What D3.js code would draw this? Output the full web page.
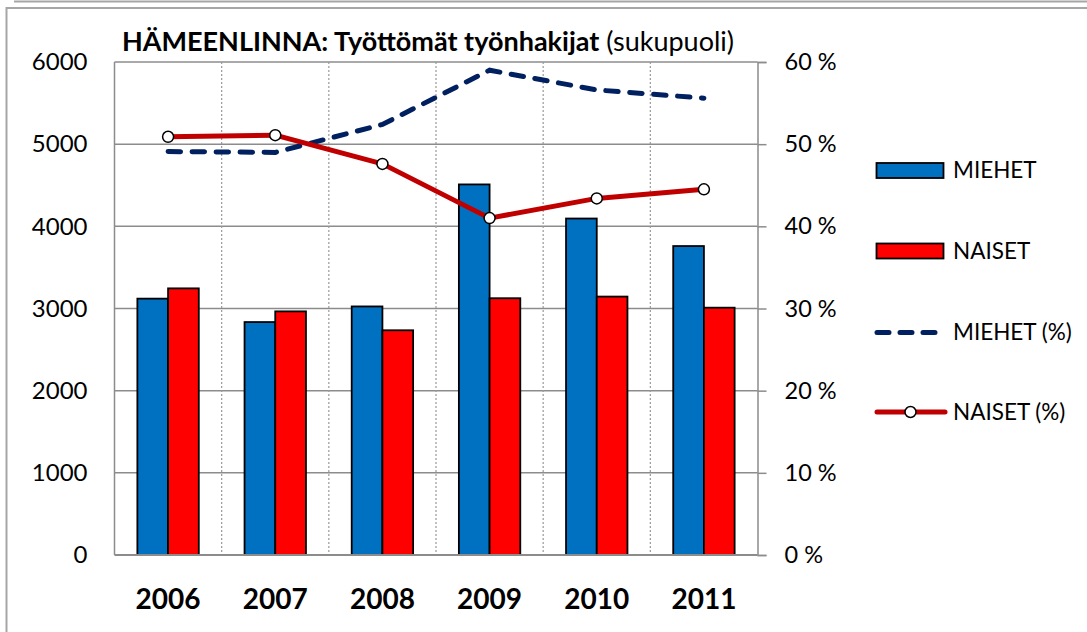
<!DOCTYPE html>
<html>
<head>
<meta charset="utf-8">
<script src="https://cdn.jsdelivr.net/npm/d3@7"></script>
<style>
html,body{margin:0;padding:0;background:#fff;}
svg{display:block;font-family:Lato,"Open Sans",sans-serif;}
</style>
</head>
<body>
<svg id="chart" width="1087" height="632"></svg>
<script>
// ---- data ----
const years = ["2006", "2007", "2008", "2009", "2010", "2011"];
const miehet = [3120, 2835, 3025, 4510, 4095, 3760];
const naiset = [3245, 2965, 2735, 3125, 3145, 3010];
const miehetPct = [49.1, 49.0, 52.4, 59.0, 56.6, 55.6];
const naisetPct = [50.9, 51.1, 47.6, 41.0, 43.4, 44.5];
const leftTicks = [0, 1000, 2000, 3000, 4000, 5000, 6000];
const rightTicks = [0, 10, 20, 30, 40, 50, 60];
const titleBold = "HÄMEENLINNA: Työttömät työnhakijat";
const titleNormal = "(sukupuoli)";
const legendLabels = ["MIEHET", "NAISET", "MIEHET (%)", "NAISET (%)"];

const svg = d3.select("#chart");
const W = 1087, H = 632;
const plot = {left: 114.5, right: 757.5, top: 62, bottom: 555};

// outer frames
svg.append("line").attr("x1", 14).attr("x2", W).attr("y1", 1.5).attr("y2", 1.5)
  .attr("stroke", "#a6a6a6").attr("stroke-width", 2);
svg.append("rect").attr("x", 6.5).attr("y", 8).attr("width", W + 20).attr("height", H + 20)
  .attr("fill", "none").attr("stroke", "#a6a6a6").attr("stroke-width", 2);

const x = d3.scaleBand().domain(years).range([plot.left, plot.right]).padding(0);
const y = d3.scaleLinear().domain([0, 6000]).range([plot.bottom, plot.top]);
const y2 = d3.scaleLinear().domain([0, 60]).range([plot.bottom, plot.top]);

const barW = x.bandwidth() * 0.2865;
const xc = d => x(d) + x.bandwidth() / 2;

// horizontal gridlines
svg.append("g").selectAll("line").data(leftTicks.filter(t => t > 0)).join("line")
  .attr("x1", plot.left).attr("x2", plot.right)
  .attr("y1", d => y(d)).attr("y2", d => y(d))
  .attr("stroke", "#8c8c8c").attr("stroke-width", 1.5);

// vertical dotted separators
svg.append("g").selectAll("line").data(years.slice(1)).join("line")
  .attr("x1", d => x(d)).attr("x2", d => x(d))
  .attr("y1", plot.top).attr("y2", plot.bottom)
  .attr("stroke", "#999").attr("stroke-width", 1.2).attr("stroke-dasharray", "2 2");

// bars
const barG = svg.append("g");
barG.selectAll("rect.m").data(years).join("rect").attr("class", "m")
  .attr("x", d => xc(d) - barW).attr("width", barW)
  .attr("y", (d, i) => y(miehet[i])).attr("height", (d, i) => y(0) - y(miehet[i]))
  .attr("fill", "#0070C0").attr("stroke", "#000").attr("stroke-width", 1.8);
barG.selectAll("rect.n").data(years).join("rect").attr("class", "n")
  .attr("x", d => xc(d)).attr("width", barW)
  .attr("y", (d, i) => y(naiset[i])).attr("height", (d, i) => y(0) - y(naiset[i]))
  .attr("fill", "#FF0000").attr("stroke", "#000").attr("stroke-width", 1.8);

// axes lines
const axisColor = "#8c8c8c";
svg.append("line").attr("x1", plot.left).attr("x2", plot.left).attr("y1", plot.top).attr("y2", plot.bottom)
  .attr("stroke", axisColor).attr("stroke-width", 1.5);
svg.append("line").attr("x1", plot.left).attr("x2", plot.right).attr("y1", plot.bottom).attr("y2", plot.bottom)
  .attr("stroke", axisColor).attr("stroke-width", 2);

// right axis with outward ticks
const rAxis = svg.append("g").attr("transform", `translate(${plot.right},0)`)
  .call(d3.axisRight(y2).tickValues(rightTicks).tickSize(9).tickPadding(18).tickFormat(d => d + " %"));
rAxis.select(".domain").attr("stroke", axisColor).attr("stroke-width", 1.5);
rAxis.selectAll(".tick line").attr("stroke", axisColor).attr("stroke-width", 1.5);
rAxis.selectAll(".tick text").attr("font-family", "Lato").attr("font-size", 23.5).attr("fill", "#000");

// left axis labels
const lAxis = svg.append("g").attr("transform", `translate(${plot.left},0)`)
  .call(d3.axisLeft(y).tickValues(leftTicks).tickSize(0).tickPadding(27).tickFormat(d3.format("d")));
lAxis.select(".domain").remove();
lAxis.selectAll(".tick text").attr("font-family", "Lato").attr("font-size", 24).attr("fill", "#000");

// x labels
svg.append("g").selectAll("text").data(years).join("text")
  .attr("x", d => xc(d)).attr("y", 609)
  .attr("text-anchor", "middle").attr("font-family", "Lato").attr("font-weight", "bold")
  .attr("font-size", 28).attr("fill", "#000").text(d => d);

// lines
const line = d3.line().x((d, i) => xc(years[i])).y(d => y2(d));
svg.append("path").datum(miehetPct).attr("d", line).attr("fill", "none")
  .attr("stroke", "#002060").attr("stroke-width", 5).attr("stroke-linecap", "round")
  .attr("stroke-dasharray", "12.5 11.5");
svg.append("path").datum(naisetPct).attr("d", line).attr("fill", "none")
  .attr("stroke", "#C00000").attr("stroke-width", 5).attr("stroke-linejoin", "round");
svg.append("g").selectAll("circle").data(naisetPct).join("circle")
  .attr("cx", (d, i) => xc(years[i])).attr("cy", d => y2(d)).attr("r", 5.5)
  .attr("fill", "#fff").attr("stroke", "#000").attr("stroke-width", 1.5);

// title
const t = svg.append("text").attr("x", 122).attr("y", 51).attr("font-family", "Lato")
  .attr("font-size", 27).attr("fill", "#000");
t.append("tspan").attr("font-weight", "bold").text(titleBold);
t.append("tspan").text(" " + titleNormal);

// legend
const lg = svg.append("g");
const ly = [170.5, 251, 332.5, 412];
lg.append("rect").attr("x", 876.5).attr("y", ly[0] - 7.5).attr("width", 67).attr("height", 15)
  .attr("fill", "#0070C0").attr("stroke", "#000").attr("stroke-width", 1.8);
lg.append("rect").attr("x", 876.5).attr("y", ly[1] - 7.5).attr("width", 67).attr("height", 15)
  .attr("fill", "#FF0000").attr("stroke", "#000").attr("stroke-width", 1.8);
lg.append("line").attr("x1", 877).attr("x2", 937).attr("y1", ly[2]).attr("y2", ly[2])
  .attr("stroke", "#002060").attr("stroke-width", 5).attr("stroke-linecap", "round")
  .attr("stroke-dasharray", "12 11");
lg.append("line").attr("x1", 877).attr("x2", 945).attr("y1", ly[3]).attr("y2", ly[3])
  .attr("stroke", "#C00000").attr("stroke-width", 5).attr("stroke-linecap", "round");
lg.append("circle").attr("cx", 910.5).attr("cy", ly[3]).attr("r", 5.5)
  .attr("fill", "#fff").attr("stroke", "#000").attr("stroke-width", 1.5);
lg.selectAll("text").data(legendLabels).join("text")
  .attr("x", 953).attr("y", (d, i) => ly[i]).attr("dy", "0.35em")
  .attr("font-family", "Lato").attr("font-size", 22.5).attr("fill", "#000").text(d => d);
</script>
</body>
</html>
